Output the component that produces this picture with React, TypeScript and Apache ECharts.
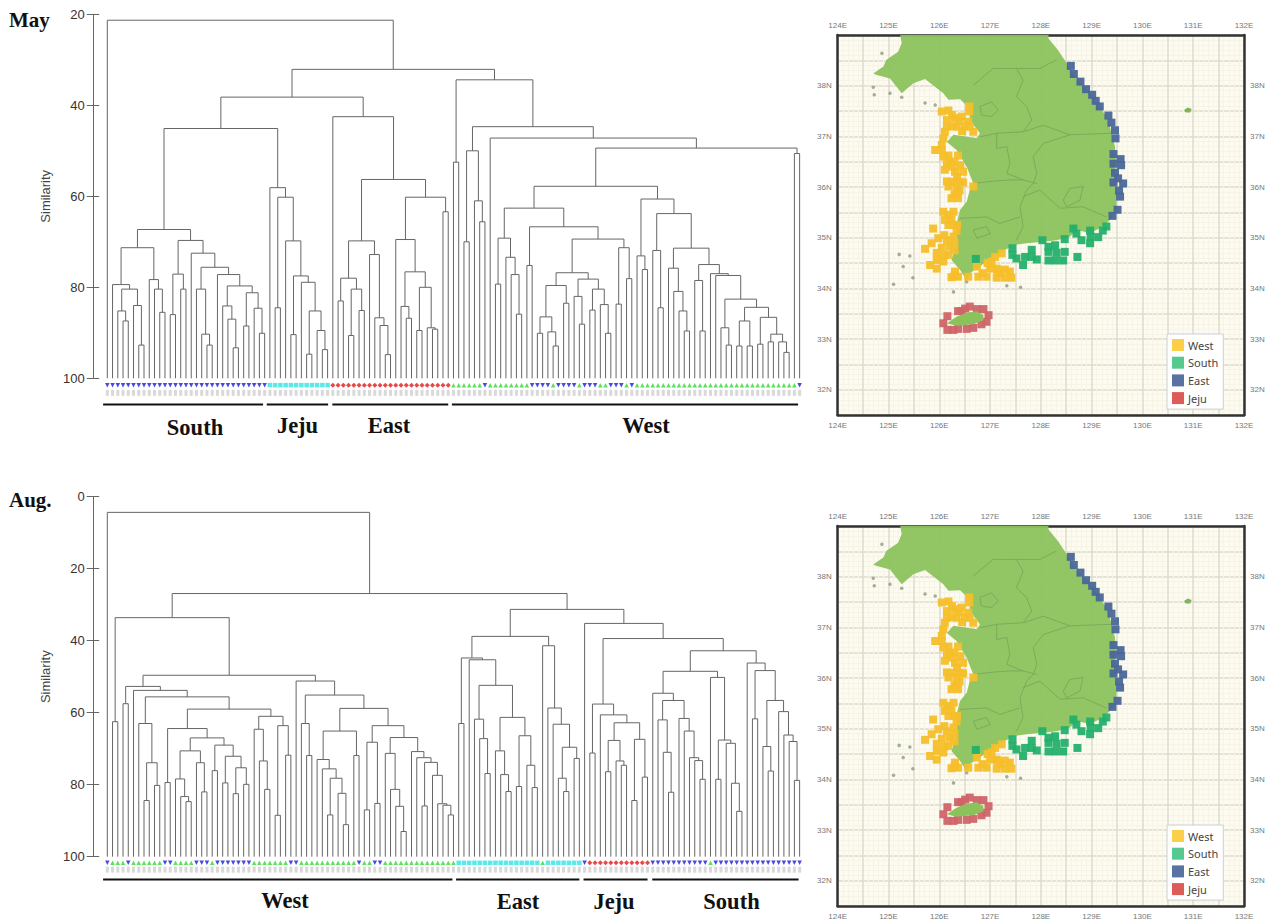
import React, { useEffect, useRef } from "react";
import * as echarts from "echarts";

type Node = 0 | [number, Node, Node];

// ---- May dendrogram: [similarity, left, right], 0 = leaf ----
const maySouth: Node = [67.3,
  [71.3, [79.4, 0, [80.4, [85.2, 0, [87.4, 0, 0]], [84, 0, [92.7, 0, 0]]]], [78.3, 0, [80.4, 0, [85.5, 0, 0]]]],
  [69.7, [77.1, [86, 0, 0], [80.4, 0, 0]],
    [72.5, 0, [75.6, [80.4, 0, [90.3, 0, [92.7, 0, 0]]],
      [77.2, 0, [79.7, [84.1, 0, [87, 0, [93.3, 0, 0]]], [81.2, [88.5, 0, 0], [84.6, 0, [90.1, 0, 0]]]]]]]]];
const mayJeju: Node = [58.1, 0, [60.2, [84.5, 0, 0], [69.8, 0, [77.5, [90.4, 0, 0], [78.9, 0, [85.2, [94.7, 0, 0], [89.5, 0, [93.7, 0, 0]]]]]]]];
const mayEast: Node = [42.5, 0, [56.3,
  [69.8, [78, [83, 0, 0], [80.4, [90.6, 0, 0], [85.1, 0, 0]]], [72.8, 0, [86.7, 0, [88.4, 0, [94.8, 0, 0]]]]],
  [60.2, [69.5, 0, [76.6, [84.2, 0, [86.8, 0, 0]], [80, [89.5, 0, 0], [88.9, 0, [89.2, 0, 0]]]]], [63.4, 0, 0]]]];
const mayWestA: Node = [62.6,
  [69.2, [79.3, 0, 0], [73.4, 0, [77.2, 0, [85.9, 0, 0]]]],
  [66.7, [75.2, 0, 0], [69.4,
    [76.8, [79.6, [86.5, [90.1, 0, 0], [89.8, 0, [92.9, 0, 0]]], [83.5, 0, 0]],
      [78.2, [82, 0, [88.1, 0, 0]], [80.4, [85, 0, 0], [83.8, 0, [90.1, 0, 0]]]]],
    [71.3, [83.7, 0, 0], [78.1, 0, 0]]]]];
const mayWestB: Node = [60.6, [73.1, 0, [76.1, 0, 0]],
  [63.8, [71.9, 0, [84.5, 0, 0]],
    [71.4, [75.8, 0, [80.9, 0, [85.2, 0, [89.6, 0, 0]]]],
      [75, [78.5, 0, [89.6, 0, 0]],
        [77, 0, [77.4, 0, [82.6, [88.9, 0, [92.7, 0, 0]],
          [84.4, [87.4, [92.9, 0, 0], [92.9, 0, 0]], [86.6, [92.5, 0, 0], [90.3, [92, 0, 0], [92, 0, [94.3, 0, 0]]]]]]]]]]]];
const mayWest: Node = [34.4, [52.5, 0, 0], [44.7, [50, [70, 0, 0], [61, 0, [65.6, 0, 0]]], [47.2, 0, [49.4, [57.8, mayWestA, mayWestB], [50.6, 0, 0]]]]];
const mayTree: Node = [21.3, 0, [32.1, [38.2, [45.1, maySouth, mayJeju], mayEast], mayWest]];

// ---- August dendrogram ----
const augWestL: Node = [52.7, [57.5, 0, 0], [53.8, 0, [55.6,
  [63, 0, [73.9, [84.4, 0, 0], [80.2, 0, 0]]],
  [59, [64.4, [79.4, 0, 0], [67,
    [70.6, [78.4, 0, [83.3, 0, [84.7, 0, 0]]], [73.9, 0, [82, 0, 0]]],
    [69, [76.1, 0, 0], [72.1, [79.5, 0, 0], [75.3, [82.5, 0, 0], [79.9, 0, 0]]]]]],
    [61, [64.6, 0, [73.4, 0, [81.3, 0, 0]]], [63.6, [88.5, 0, 0], [71.8, 0, 0]]]]]]];
const augWestR: Node = [51.2, 0, [55.1, [63, 0, [71.9, 0, 0]], [58.8,
  [65.1, [73, 0, [75.6, 0, [78.2, [88.4, 0, 0], [82.4, 0, [91.1, 0, 0]]]]], [71.9, 0, 0]],
  [63.6, [68.2, [87, 0, 0], [85.2, 0, 0]],
    [66.9, [71.3, 0, [81.3, 0, [86, 0, [93, 0, 0]]]],
      [70.8, 0, [72.5, 0, [73.8, [85.9, 0, 0], [77.4, 0, [85.3, 0, [85.7, 0, [88.4, 0, 0]]]]]]]]]]]];
const augEastA: Node = [44.8, [63, 0, 0], [45.3, 0, [52.4,
  [61.8, 0, [67.2, 0, [76.9, 0, 0]]],
  [61.3, [70.6, 0, [77.2, 0, [81.9, 0, 0]]], [66.4, [80.5, 0, 0], [74.6, 0, [80.8, 0, 0]]]]]]];
const augEastB: Node = [41.4, 0, [58.7, 0, [63.2, 0, [69.6, [78.2, 0, [81.9, 0, 0]], [72.7, 0, 0]]]]];
const augJeju: Node = [57.6, [71.2, 0, 0], [60.6, 0, [62.8, [67.7, [76.4, 0, 0], [73.4, 0, [74.6, 0, 0]]], [67.4, [84.4, 0, 0], [77.9, 0, 0]]]]];
const augSouthA: Node = [54.6, 0, [56.6, [62, 0, [71, 0, [82.1, 0, 0]]], [61.6, 0, [65.1, 0, [72.5, 0, [73.3, 0, [78.5, 0, 0]]]]]]];
const augSouthB: Node = [50.2, 0, [67.6, [78.5, 0, 0], [68.5, 0, [79.6, 0, [87.4, 0, 0]]]]];
const augSouth: Node = [42.8, [48.5, augSouthA, augSouthB], [46.2, 0, [48.3, [61.7, 0, 0],
  [56.6, [69.4, 0, [76.2, 0, 0]], [59.7, 0, [66.2, 0, [68, 0, [78.8, 0, 0]]]]]]]];
const augTree: Node = [4.35, 0, [26.9,
  [33.6, [62.5, 0, 0], [49.6, augWestL, augWestR]],
  [31.3, [38.8, augEastA, augEastB], [35.2, 0, [39.4, augJeju, augSouth]]]]];

// ---- Leaf markers as runs of [kind, count] ----
const mayMarkerRuns: [string, number][] = [["down", 31], ["square", 12], ["diamond", 23], ["up", 6], ["down", 1], ["up", 8], ["down", 4], ["up", 1], ["down", 4], ["up", 1], ["down", 3], ["up", 2], ["down", 3], ["up", 1], ["down", 1], ["up", 31], ["down", 1]];
const augMarkerRuns: [string, number][] = [["down", 1], ["up", 3], ["down", 1], ["up", 6], ["down", 2], ["up", 4], ["down", 3], ["up", 1], ["down", 7], ["up", 7], ["down", 2], ["up", 11], ["down", 1], ["up", 2], ["down", 2], ["up", 14], ["square", 16], ["up", 1], ["square", 7], ["down", 1], ["diamond", 12], ["down", 11], ["up", 1], ["down", 17]];

// ---- Group underlines in leaf units ----
const mayGroups: [number, number][] = [[-0.8, 29.7], [30.4, 42.1], [42.9, 65], [65.7, 131.7]];
const augGroups: [number, number][] = [[-0.8, 65.8], [66.5, 90], [90.8, 103], [103.9, 131.8]];

// ---- Map data, lon/lat ----
const landOutline = [[125.23, 39], [128.15, 39], [128.15, 38.93], [128.34, 38.7], [128.51, 38.44], [128.7, 38.14], [128.93, 37.88], [129.16, 37.59], [129.33, 37.32], [129.39, 37.06], [129.46, 36.8], [129.48, 36.53], [129.46, 36.2], [129.49, 35.87], [129.49, 35.61], [129.39, 35.38], [129.23, 35.22], [128.97, 35.09], [128.7, 35.15], [128.57, 35.02], [128.31, 34.95], [128.05, 34.92], [127.72, 34.89], [127.46, 34.85], [127.23, 34.72], [127, 34.59], [126.8, 34.43], [126.6, 34.3], [126.54, 34.16], [126.41, 34.36], [126.24, 34.56], [126.34, 34.89], [126.34, 35.28], [126.41, 35.55], [126.54, 35.71], [126.6, 35.94], [126.67, 36.07], [126.54, 36.4], [126.34, 36.73], [126.15, 36.89], [126.28, 37.03], [126.74, 36.96], [126.8, 37.06], [126.6, 37.32], [126.6, 37.55], [126.41, 37.73], [126.18, 37.72], [126.08, 37.85], [125.72, 38.13], [125.49, 38.05], [125.26, 37.85], [125.03, 38.14], [124.77, 38.21], [124.7, 38.24], [124.9, 38.38], [124.96, 38.51], [125.19, 38.67], [125.26, 38.84]];
const jejuIsland = [[126.15, 33.31], [126.34, 33.44], [126.54, 33.52], [126.74, 33.55], [126.87, 33.47], [126.87, 33.37], [126.67, 33.29], [126.34, 33.26]];
const ulleungIsland = [[130.82, 37.52], [130.89, 37.57], [130.97, 37.54], [130.94, 37.47], [130.85, 37.47]];
const smallIslands = [[124.7, 37.97], [124.72, 37.82], [125.03, 37.85], [124.87, 38.64], [125.26, 37.77], [125.72, 37.66], [125.92, 37.62], [125.42, 34.64], [125.21, 34.67], [125.29, 34.43], [125.1, 34.08], [125.48, 34.21], [126.28, 33.93], [127.33, 34.05], [126.54, 34.13], [127.6, 34.02]];
const provinceLines = [
  [[126.67, 38.01], [127.06, 38.34], [127.52, 38.34], [127.98, 38.34], [128.31, 38.51]],
  [[127.52, 38.34], [127.65, 38.11], [127.52, 37.78], [127.72, 37.59], [127.82, 37.32], [127.65, 37.09]],
  [[126.8, 36.99], [127.13, 37.06], [127.65, 37.09], [128.05, 37.22], [128.57, 37.03], [129.39, 37.06]],
  [[126.8, 37.59], [127.03, 37.68], [127.16, 37.52], [127.03, 37.39], [126.83, 37.42], [126.8, 37.59]],
  [[127.13, 37.06], [127.13, 36.76], [127.33, 36.8], [127.39, 36.47], [127.33, 36.27], [127.65, 36.14], [127.92, 36.07]],
  [[128.57, 37.03], [128.05, 36.86], [127.85, 36.6], [127.92, 36.27], [127.85, 36.07], [127.72, 35.94]],
  [[126.67, 36.07], [127, 36.11], [127.39, 36.14], [127.65, 36.14]],
  [[127.72, 35.94], [127.59, 35.61], [127.65, 35.22], [127.52, 34.95]],
  [[126.41, 35.38], [126.93, 35.41], [127.19, 35.28], [127.59, 35.41]],
  [[126.67, 35.15], [126.93, 35.22], [127, 35.08], [126.74, 34.99], [126.67, 35.15]],
  [[127.65, 35.81], [127.98, 35.94], [128.38, 35.58], [128.83, 35.61], [129.29, 35.41]],
  [[128.44, 35.74], [128.57, 35.97], [128.83, 36.01], [128.77, 35.74], [128.51, 35.61], [128.44, 35.74]],
];
const westStations = [[126.59, 37.59], [126.59, 37.49], [126.05, 37.49], [126.18, 37.51], [126.15, 37.32], [126.31, 37.36], [126.44, 37.39], [126.57, 37.29], [126.15, 37.19], [126.34, 37.19], [126.6, 37.19], [126.67, 37.09], [126.11, 37.09], [126.08, 36.96], [126.05, 36.83], [125.92, 36.73], [126.05, 36.73], [126.18, 36.62], [126.37, 36.62], [126.08, 36.6], [126.15, 36.45], [126.41, 36.43], [126.11, 36.34], [126.31, 36.3], [126.47, 36.3], [126.15, 36.11], [126.47, 36.09], [126.18, 36.01], [126.34, 36.01], [126.67, 36.01], [126.34, 35.87], [126.24, 35.78], [126.37, 35.78], [126.28, 35.51], [126.08, 35.51], [126.11, 35.35], [126.24, 35.35], [126.18, 35.25], [125.88, 35.18], [126.34, 35.14], [125.98, 34.99], [126.28, 35.02], [126.15, 34.95], [125.72, 34.78], [125.85, 34.89], [126.21, 34.82], [126.18, 34.66], [125.95, 34.56], [125.82, 34.46], [126.08, 34.53], [125.95, 34.39], [126.74, 34.43], [127.03, 34.53], [127.23, 34.69], [127.1, 34.62], [127, 34.39], [126.31, 34.33], [126.24, 34.22], [126.37, 34.23], [126.57, 34.23], [126.77, 34.23], [126.93, 34.23], [127.13, 34.39], [127.29, 34.37], [127.13, 34.21], [127.29, 34.21], [127.42, 34.21], [127.39, 34.33],
  [126.25, 37.42], [126.4, 37.3], [126.5, 37.2], [126.25, 37.2], [126.45, 37.1], [126.2, 36.5], [126.3, 36.5], [126.25, 36.4], [126.35, 36.2], [126.25, 36.1], [126.4, 36.1], [126.4, 35.93], [126.3, 35.85], [126.18, 35.45], [126.3, 35.25], [126.35, 35.25], [126.1, 35.05], [126.3, 34.9], [126.05, 34.8], [126.3, 34.75], [125.95, 34.7], [126.1, 34.65], [126.95, 34.5], [127.15, 34.35], [126.3, 34.25], [126.85, 34.3], [127.2, 34.3]];
const southStations = [[127.44, 34.79], [127.44, 34.66], [127.52, 34.59], [127.65, 34.46], [127.69, 34.62], [127.82, 34.76], [127.82, 34.62], [127.92, 34.57], [128.03, 34.95], [128.15, 34.82], [128.28, 34.85], [128.15, 34.72], [128.31, 34.7], [128.15, 34.55], [128.29, 34.55], [128.44, 34.55], [128.47, 34.72], [128.47, 34.97], [128.64, 35.18], [128.7, 35.08], [128.8, 34.95], [128.72, 34.62], [128.97, 35.14], [128.98, 35.02], [128.97, 34.89], [129.13, 35.01], [129.22, 35.14], [129.29, 35.22], [126.72, 34.58]];
const eastStations = [[128.59, 38.39], [128.65, 38.23], [128.78, 38.08], [128.89, 37.93], [129.01, 37.82], [129.08, 37.7], [129.16, 37.59], [129.33, 37.41], [129.39, 37.27], [129.46, 37.12], [129.47, 36.96], [129.43, 36.65], [129.57, 36.55], [129.43, 36.46], [129.58, 36.43], [129.46, 36.28], [129.52, 36.17], [129.43, 36.09], [129.62, 36.07], [129.54, 35.93], [129.56, 35.81], [129.51, 35.55], [129.41, 35.43]];
const jejuStations = [[126.16, 33.45], [126.08, 33.31], [126.16, 33.18], [126.28, 33.18], [126.37, 33.2], [126.54, 33.2], [126.67, 33.22], [126.83, 33.29], [126.97, 33.47], [126.93, 33.34], [126.87, 33.59], [126.74, 33.59], [126.6, 33.64], [126.51, 33.6], [126.44, 33.55], [126.37, 33.55]];

const lonTicks = [124, 132];
const latTicks = [31.5, 39];

const SERIF = "'Liberation Serif', 'Times New Roman', serif";
const SANS = "'Liberation Sans', Arial, sans-serif";
const LINE = "#666666";

type Seg = number[];
function layoutTree(tree: Node): Seg[] {
  const segs: Seg[] = [];
  let next = 0;
  const walk = (n: Node): { x: number; h: number } => {
    if (n === 0) return { x: next++, h: 100 };
    const l = walk(n[1]);
    const r = walk(n[2]);
    segs.push([l.x, l.h, n[0], r.x, r.h]);
    return { x: (l.x + r.x) / 2, h: n[0] };
  };
  walk(tree);
  return segs;
}
function expandRuns(runs: [string, number][]): string[] {
  const out: string[] = [];
  runs.forEach(([k, c]) => { for (let i = 0; i < c; i++) out.push(k); });
  return out;
}

const markerStyle: Record<string, any> = {
  down: { symbol: "triangle", rotate: 180, color: "#1c1cd8", size: 4.5 },
  up: { symbol: "triangle", rotate: 0, color: "#34d934", size: 4.5 },
  square: { symbol: "rect", rotate: 0, color: "#2fe3e3", size: 4.5 },
  diamond: { symbol: "diamond", rotate: 0, color: "#e41818", size: 5 },
};

function dendroSeries(key: string, tree: Node, runs: [string, number][], groups: [number, number][], gi: number, yi: number, markerY: number, labelY: number, barY: number) {
  const segs = layoutTree(tree);
  const kinds = expandRuns(runs);
  const series: any[] = [{
    name: key + " tree", type: "custom", xAxisIndex: gi, yAxisIndex: yi, clip: false, silent: true, z: 3,
    data: segs,
    renderItem: (_p: any, api: any) => {
      const pts = [[api.value(0), api.value(1)], [api.value(0), api.value(2)], [api.value(3), api.value(2)], [api.value(3), api.value(4)]];
      return { type: "polyline", shape: { points: pts.map((p) => api.coord(p)) }, style: { stroke: LINE, lineWidth: 1, fill: "none" } };
    },
  }];
  Object.keys(markerStyle).forEach((k) => {
    const m = markerStyle[k];
    const d = kinds.map((kk, i) => (kk === k ? [i, markerY] : null)).filter(Boolean);
    if (!d.length) return;
    series.push({ name: key + " " + k, type: "scatter", xAxisIndex: gi, yAxisIndex: yi, clip: false, silent: true, z: 4, symbol: m.symbol, symbolRotate: m.rotate, symbolSize: m.size, itemStyle: { color: m.color }, data: d });
  });
  series.push({
    name: key + " samples", type: "scatter", xAxisIndex: gi, yAxisIndex: yi, clip: false, silent: true, z: 2,
    symbol: "rect", symbolSize: [3, 6], itemStyle: { color: "#d0d0d0" }, data: kinds.map((_k, i) => [i, labelY]),
  });
  series.push({
    name: key + " groups", type: "custom", xAxisIndex: gi, yAxisIndex: yi, clip: false, silent: true, z: 3,
    data: groups.map((g) => [g[0], g[1], barY]),
    renderItem: (_p: any, api: any) => {
      const a = api.coord([api.value(0), api.value(2)]);
      const b = api.coord([api.value(1), api.value(2)]);
      return { type: "line", shape: { x1: a[0], y1: a[1], x2: b[0], y2: b[1] }, style: { stroke: "#111", lineWidth: 2 } };
    },
  });
  return series;
}

function mapSeries(xi: number, yi: number) {
  const polygon = (name: string, pts: number[][], fill: string, opacity: number, z: number) => ({
    name, type: "custom", xAxisIndex: xi, yAxisIndex: yi, silent: true, z, data: [0],
    renderItem: (_p: any, api: any) => ({ type: "polygon", shape: { points: pts.map((p) => api.coord(p)) }, style: { fill, opacity } }),
  });
  const stations = (name: string, d: number[][], color: string, z: number) => ({
    name, type: "scatter", xAxisIndex: xi, yAxisIndex: yi, silent: true, z, symbol: "rect", symbolSize: 8, itemStyle: { color, opacity: 0.95 }, data: d,
  });
  return [
    polygon("land", landOutline, "#8cc25c", 0.95, 2),
    polygon("jeju land", jejuIsland, "#8cc25c", 1, 6),
    polygon("ulleung", ulleungIsland, "#7fb45a", 1, 2),
    { name: "islets", type: "scatter", xAxisIndex: xi, yAxisIndex: yi, silent: true, z: 2, symbol: "circle", symbolSize: 3.5, itemStyle: { color: "#8a9c80" }, data: smallIslands },
    {
      name: "provinces", type: "custom", xAxisIndex: xi, yAxisIndex: yi, silent: true, z: 2, data: provinceLines.map((_l, i) => i),
      renderItem: (_p: any, api: any) => ({ type: "polyline", shape: { points: provinceLines[api.value(0)].map((p) => api.coord(p)) }, style: { stroke: "#76a558", lineWidth: 0.8, fill: "none" } }),
    },
    stations("West", westStations, "#f6bf2a", 5),
    stations("South", southStations, "#24b06c", 5),
    stations("East", eastStations, "#4a6798", 5),
    stations("Jeju", jejuStations, "#cf6468", 4),
  ];
}

const DENDRO_LEFT = 93.7;
const DENDRO_WIDTH = 706.3;
const LEAF_0 = 107.3;
const LEAF_STEP = 5.245;
const leafMin = (DENDRO_LEFT - LEAF_0) / LEAF_STEP;
const leafMax = (DENDRO_LEFT + DENDRO_WIDTH - LEAF_0) / LEAF_STEP;

function dendroY(min: number, gridIndex: number, outer: boolean) {
  return {
    type: "value", gridIndex, inverse: true, min, max: 100, interval: 20, position: "left",
    name: outer ? "Similarity" : "", nameLocation: "middle", nameGap: 40, nameRotate: 90,
    nameTextStyle: { fontFamily: SANS, fontSize: 13, color: "#444" },
    splitLine: { show: false },
    axisLine: { show: outer, onZero: false, lineStyle: { color: LINE, width: 1 } },
    axisTick: { show: true, inside: !outer, length: outer ? 7 : 5.5, lineStyle: { color: LINE, width: 1 } },
    axisLabel: { show: outer, margin: 9, fontFamily: SANS, fontSize: 13, color: "#333" },
  };
}
function mapX(gridIndex: number, position: string) {
  return {
    type: "value", gridIndex, position, min: lonTicks[0], max: lonTicks[1], interval: 0.5,
    axisLine: { show: true, onZero: false, lineStyle: { color: "#333", width: 2.5 } },
    axisTick: { show: false },
    minorTick: { show: false, splitNumber: 5 },
    minorSplitLine: { show: position === "bottom", lineStyle: { color: "#f6f4e7", width: 1 } },
    splitLine: { show: position === "bottom", lineStyle: { color: "#dcdbcc", width: 1.5 } },
    axisLabel: { margin: 6, fontFamily: SANS, fontSize: 8, color: "#777", showMinLabel: true, showMaxLabel: true, formatter: (v: number) => (Number.isInteger(v) ? `${v}E` : "") },
  };
}
function mapY(gridIndex: number, position: string) {
  return {
    type: "value", gridIndex, position, min: latTicks[0], max: latTicks[1], interval: 0.5,
    axisLine: { show: true, onZero: false, lineStyle: { color: "#333", width: 2.5 } },
    axisTick: { show: false },
    minorTick: { show: false, splitNumber: 5 },
    minorSplitLine: { show: position === "left", lineStyle: { color: "#f6f4e7", width: 1 } },
    splitLine: { show: position === "left", lineStyle: { color: "#dcdbcc", width: 1.5 } },
    axisLabel: { margin: 6, fontFamily: SANS, fontSize: 8, color: "#777", formatter: (v: number) => (Number.isInteger(v) && v < latTicks[1] ? `${v}N` : "") },
  };
}
function mapLegend(top: number) {
  return {
    orient: "vertical", left: 1167, top, width: 68, height: 78, padding: [5, 5, 5, 5],
    backgroundColor: "#fff", borderColor: "#c8d0d4", borderWidth: 1,
    itemWidth: 12, itemHeight: 12, itemGap: 5.7, icon: "rect", selectedMode: false, align: "left",
    textStyle: { fontFamily: "'Noto Sans', sans-serif", fontSize: 11, color: "#444", padding: [0, 0, 0, -1] },
    data: [
      { name: "West", itemStyle: { color: "#fbcc40" } },
      { name: "South", itemStyle: { color: "#4cc78a" } },
      { name: "East", itemStyle: { color: "#4f6a9f" } },
      { name: "Jeju", itemStyle: { color: "#d9534f" } },
    ],
  };
}
function label(text: string, x: number, y: number, size = 22.5, align = "center") {
  return { type: "text", x, y, style: { text, fontFamily: SERIF, fontWeight: "bold", fontSize: size, fill: "#111", textAlign: align, textVerticalAlign: "middle" } };
}

export default function App() {
  const ref = useRef<HTMLDivElement>(null);
  useEffect(() => {
    const chart = echarts.init(ref.current!, undefined, { renderer: "svg" });
    chart.setOption({
      animation: false,
      backgroundColor: "#ffffff",
      grid: [
        { left: DENDRO_LEFT, top: 14.3, width: DENDRO_WIDTH, height: 364 },
        { left: DENDRO_LEFT, top: 496.7, width: DENDRO_WIDTH, height: 360 },
        { left: 837.7, top: 35, width: 406.3, height: 380, show: true, backgroundColor: "#fdfbf0", borderWidth: 0 },
        { left: 837.7, top: 526, width: 406.3, height: 380, show: true, backgroundColor: "#fdfbf0", borderWidth: 0 },
      ],
      xAxis: [
        { type: "value", gridIndex: 0, min: leafMin, max: leafMax, show: false },
        { type: "value", gridIndex: 1, min: leafMin, max: leafMax, show: false },
        mapX(2, "bottom"), mapX(2, "top"), mapX(3, "bottom"), mapX(3, "top"),
      ],
      yAxis: [
        dendroY(20, 0, true), dendroY(20, 0, false), dendroY(0, 1, true), dendroY(0, 1, false),
        mapY(2, "left"), mapY(2, "right"), mapY(3, "left"), mapY(3, "right"),
      ],
      legend: [mapLegend(334), mapLegend(825)],
      series: [
        ...dendroSeries("May", mayTree, mayMarkerRuns, mayGroups, 0, 0, 101.5, 103.2, 105.75),
        ...dendroSeries("Aug", augTree, augMarkerRuns, augGroups, 1, 2, 101.7, 103.6, 106.3),
        ...mapSeries(2, 4),
        ...mapSeries(4, 6),
      ],
      graphic: [
        label("May", 9, 19.5, 21, "left"),
        label("Aug.", 9, 499.5, 21, "left"),
        label("South", 195, 427), label("Jeju", 297.5, 425.5), label("East", 389, 425.5), label("West", 646, 425),
        label("West", 285, 900.5), label("East", 518, 901.5), label("Jeju", 614, 901), label("South", 731.5, 901.5),
      ],
    });
    return () => chart.dispose();
  }, []);
  return <div ref={ref} style={{ position: "absolute", left: 0, top: 0, width: 1268, height: 921 }} />;
}
